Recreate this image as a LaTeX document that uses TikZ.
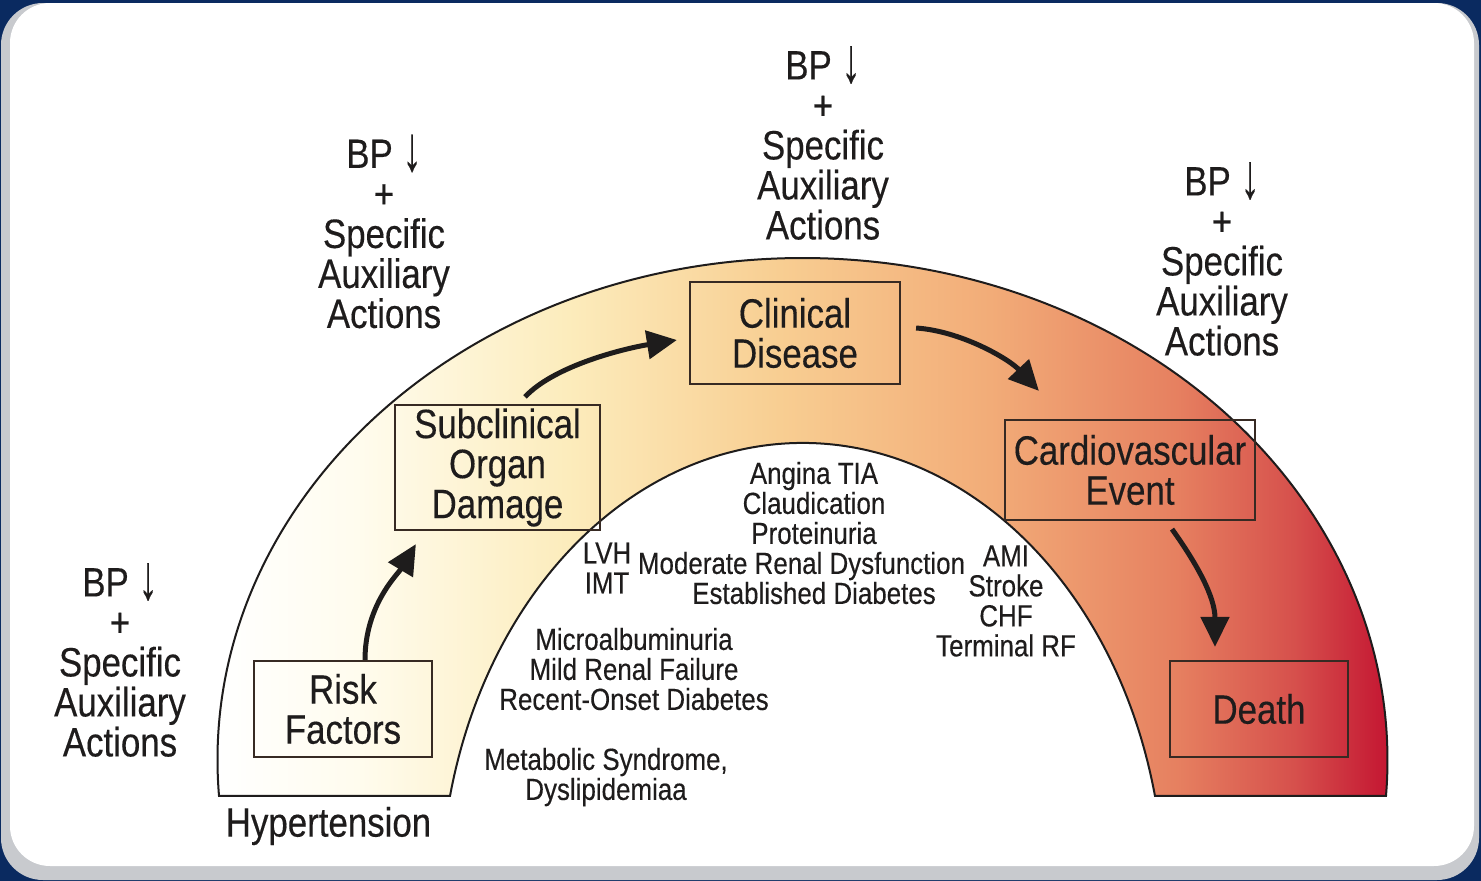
\documentclass[tikz,border=0pt]{standalone}
\usepackage{fontspec}
\setmainfont{Liberation Sans}[FakeStretch=0.85,FakeBold=0.3]
\usetikzlibrary{arrows.meta,calc}
\definecolor{navy}{RGB}{10,42,96}
\definecolor{ink}{RGB}{30,28,28}
\definecolor{boxline}{RGB}{55,42,35}
\definecolor{panelgray}{RGB}{200,202,206}
\definecolor{sA}{RGB}{255,252,238}
\definecolor{sB}{RGB}{252,236,188}
\definecolor{sC}{RGB}{248,206,146}
\definecolor{sD}{RGB}{242,172,120}
\definecolor{sE}{RGB}{230,128,96}
\definecolor{sF}{RGB}{214,80,76}
\definecolor{sG}{RGB}{196,22,50}
\pgfdeclarehorizontalshading{archshade}{100bp}{color(0bp)=(white); color(25bp)=(white); color(31bp)=(sA); color(40bp)=(sB); color(49bp)=(sC); color(58bp)=(sD); color(66bp)=(sE); color(71bp)=(sF); color(75bp)=(sG); color(100bp)=(sG)}
\newcommand\bpdown{\raisebox{-0.06em}{\scalebox{1.1}[1.55]{↓}}}
\tikzset{
  big/.style={font=\fontsize{41}{40}\selectfont, text=ink, align=center, inner sep=0pt},
  small/.style={font=\fontsize{30.5}{30}\selectfont, text=ink, align=center, inner sep=0pt},
  stage/.style={draw=boxline, line width=2.2pt, font=\fontsize{41}{40}\selectfont, text=ink, align=center, inner sep=0pt},
  flow/.style={draw=ink, line width=5pt, -{Triangle[length=30pt,width=28pt]}},
  archline/.style={draw=ink, line width=2pt}
}
\begin{document}
\begin{tikzpicture}[x=1pt,y=-1pt]
\useasboundingbox (0,0) rectangle (1481,881);
% panel
\fill[navy] (0,0) rectangle (1481,881);
\fill[panelgray, rounded corners=42pt] (1,3) rectangle (1479,880);
\fill[white, rounded corners=40pt] (10,3) rectangle (1474,866);
% arch
\def\archp{(802.5,760) ++(175.89:585 and 502) arc[start angle=175.89, end angle=364.11, x radius=585, y radius=502] -- ($(802.5,900)+(346.84:362 and 457)$) arc[start angle=346.84, end angle=193.16, x radius=362, y radius=457] -- cycle}
\begin{scope}
\clip \archp;
\shade[shading=archshade] (217,250) rectangle (1388,800);
\end{scope}
\draw[archline] \archp;
% stage boxes
\node[stage, minimum width=178pt, minimum height=96pt] (risk) at (343,709) {Risk\\Factors};
\node[stage, minimum width=205pt, minimum height=125pt] (sub) at (497.5,467.5) {Subclinical\\Organ\\Damage};
\node[stage, minimum width=210pt, minimum height=102pt] (clin) at (795,333) {Clinical\\Disease};
\node[stage, minimum width=250pt, minimum height=100pt] (cv) at (1130,470) {Cardiovascular\\Event};
\node[stage, minimum width=178pt, minimum height=96pt] (death) at (1259,709) {Death};
% arrows
\draw[flow] ([xshift=22pt]risk.north) .. controls +(0,-55) and +(-18,30) .. ([xshift=22pt,yshift=-13pt]sub.south west);
\draw[flow] ([xshift=27.5pt,yshift=7pt]sub.north) .. controls +(30,-32) and +(-50,8) .. ([xshift=-12pt,yshift=-7pt]clin.west);
\draw[flow] ([xshift=15pt,yshift=5pt]clin.east) .. controls +(45,3) and +(-30,-32) .. ([xshift=35pt,yshift=28pt]cv.north west);
\draw[flow] ([xshift=42pt,yshift=-8pt]cv.south) .. controls +(25,35) and +(0,-50) .. ([xshift=-44pt,yshift=13pt]death.north);
% action labels
\node[big] (actA) at (120,660) {BP \bpdown\\+\\Specific\\Auxiliary\\Actions};
\node[big] (actB) at (384,231.5) {BP \bpdown\\+\\Specific\\Auxiliary\\Actions};
\node[big] (actC) at (823,143) {BP \bpdown\\+\\Specific\\Auxiliary\\Actions};
\node[big] (actD) at (1222,259) {BP \bpdown\\+\\Specific\\Auxiliary\\Actions};
\node[big] (hyp) at (328.5,826) {Hypertension};
% condition lists
\node[small] (metab) at (606,777) {Metabolic Syndrome,\\Dyslipidemiaa};
\node[small] (micro) at (634,669) {Microalbuminuria\\Mild Renal Failure\\Recent-Onset Diabetes};
\node[small] (lvh) at (607,568) {LVH\\IMT};
\node[small] (clinlist) at (814,533) {Angina TIA\\Claudication\\Proteinuria\\Moderate Renal Dysfunction\rule{25pt}{0pt}\\Established Diabetes};
\node[small] (ami) at (1006,601) {AMI\\Stroke\\CHF\\Terminal RF};
\end{tikzpicture}
\end{document}
